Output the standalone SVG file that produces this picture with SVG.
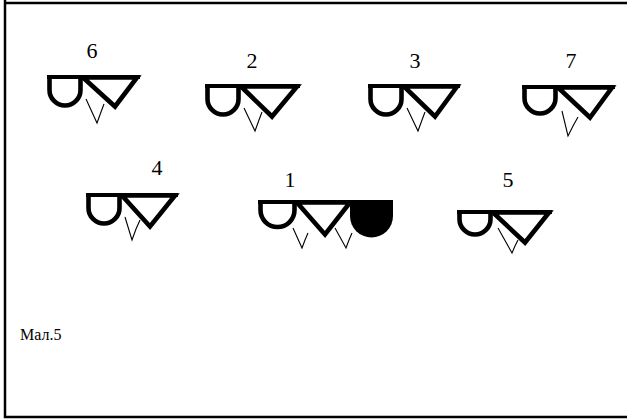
<svg xmlns="http://www.w3.org/2000/svg" width="627" height="419" viewBox="0 0 627 419">
<style>
.frame{stroke:#000;stroke-width:2.5;fill:none}
.thick{stroke:#000;stroke-width:4.6;fill:none;stroke-linejoin:miter}
.bar{stroke:#000;stroke-width:4;fill:none}
.thin{stroke:#000;stroke-width:1.1;fill:none}
.lbl{font-size:22px;fill:#000;text-anchor:middle}
.cap{font-size:16px;fill:#000}
</style>
<rect width="627" height="419" fill="#fff"/>
<g id="frame">
<path class="frame" d="M5,0 V417 H627 M5,3 H627"/>
</g>
<g font-family="'Liberation Serif', 'DejaVu Serif', 'Times New Roman', serif">
<g id="g6">
<text class="lbl" x="92" y="58">6</text>
<path class="bar" d="M47,77 H140"/>
<path class="thick" d="M49.5,75 V90 A15.5 15.5 0 0 0 80.5 90 V75"/>
<path class="thick" d="M83,77.5 L137,77.5 L115,106.5 Z"/>
<path class="thin" d="M86,99 L97,123 L101,112 L104,104"/>
</g>
<g id="g2">
<text class="lbl" x="252" y="68">2</text>
<path class="bar" d="M205,86 H300"/>
<path class="thick" d="M207.5,84 V99 A15.5 15.5 0 0 0 238.5 99 V84"/>
<path class="thick" d="M241,86.5 L297,86.5 L272,116.5 Z"/>
<path class="thin" d="M244,108 L255,131 L259,120 L262,112"/>
</g>
<g id="g3">
<text class="lbl" x="415" y="68">3</text>
<path class="bar" d="M368,86 H460"/>
<path class="thick" d="M370.5,84 V99 A15.5 15.5 0 0 0 401.5 99 V84"/>
<path class="thick" d="M404,86.5 L457,86.5 L435,116.5 Z"/>
<path class="thin" d="M407,108 L418,131 L422,120 L425,112"/>
</g>
<g id="g7">
<text class="lbl" x="571" y="68">7</text>
<path class="bar" d="M522,87 H615"/>
<path class="thick" d="M524.5,85 V98 A15.5 15.5 0 0 0 555.5 98 V85"/>
<path class="thick" d="M558,87.5 L612,87.5 L590,117.5 Z"/>
<path class="thin" d="M562,111 L568,136 L573,126 L578,117"/>
</g>
<g id="g4">
<text class="lbl" x="157" y="175">4</text>
<path class="bar" d="M86,195 H178"/>
<path class="thick" d="M88.5,193 V208 A15.5 15.5 0 0 0 119.5 208 V193"/>
<path class="thick" d="M122,195.5 L175,195.5 L150,226.5 Z"/>
<path class="thin" d="M125,217 L132,240 L136,229 L140,220"/>
</g>
<g id="g1">
<text class="lbl" x="290" y="187">1</text>
<path class="bar" d="M258,202 H393"/>
<path class="thick" d="M260.5,200 V210 A17 17 0 0 0 294.5 210 V200"/>
<path class="thick" d="M297,202.5 L350,202.5 L325,234.5 Z"/>
<path d="M350,200 H393 V216 A21.5 21.5 0 0 1 350 216 Z" fill="#000"/>
<path class="thin" d="M293,228 L302,248 L305,240 L308,233"/>
<path class="thin" d="M335,228 L346,248 L349,240 L352,233"/>
</g>
<g id="g5">
<text class="lbl" x="508" y="187">5</text>
<path class="bar" d="M457,212 H552"/>
<path class="thick" d="M459.5,210 V219 A15.5 15.5 0 0 0 490.5 219 V210"/>
<path class="thick" d="M493,212.5 L549,212.5 L525,242.5 Z"/>
<path class="thin" d="M498,228 L512,253 L515,246 L518,240"/>
</g>
<text class="cap" x="20" y="340">Мал.5</text>
</g>
</svg>
